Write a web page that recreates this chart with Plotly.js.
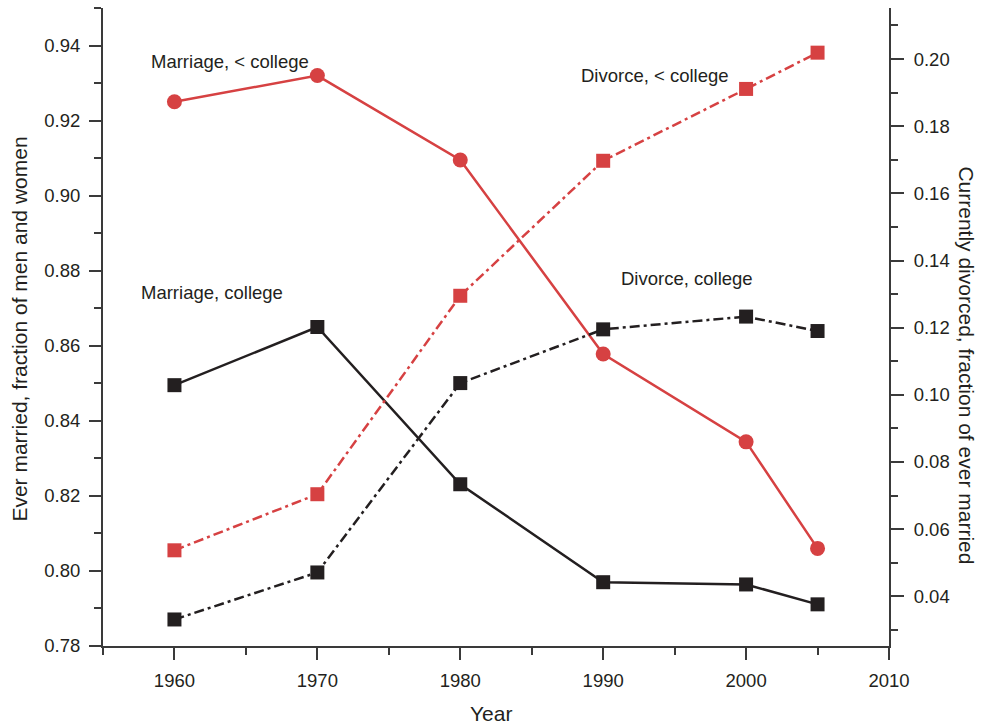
<!DOCTYPE html>
<html>
<head>
<meta charset="utf-8">
<script src="https://cdn.plot.ly/plotly-3.0.1.min.js"></script>
<style>html,body{margin:0;padding:0;background:#fff;}#chart{width:983px;height:726px;}</style>
</head>
<body>
<div id="chart"></div>
<script>
const years = [1960, 1970, 1980, 1990, 2000, 2005];
const marriageNoCollege = [0.925, 0.932, 0.9095, 0.8578, 0.8344, 0.806];
const marriageCollege = [0.8495, 0.865, 0.8231, 0.797, 0.7964, 0.7911];
const divorceNoCollege = [0.0537, 0.0704, 0.1295, 0.1697, 0.1911, 0.2019];
const divorceCollege = [0.0331, 0.0471, 0.1035, 0.1195, 0.1233, 0.119];

const RED = '#d64142';
const BLACK = '#231f20';
const AX = '#3a3a3a';
const TXT = '#231f20';
const FONT = 'Liberation Sans, Arial, Helvetica, sans-serif';
const DASHDOT = '10px,4px,3px,4px';

const traces = [
  {x: years, y: marriageNoCollege, yaxis: 'y', mode: 'lines+markers', name: 'Marriage, < college',
   line: {color: RED, width: 2.5}, marker: {symbol: 'circle', size: 15, color: RED}},
  {x: years, y: marriageCollege, yaxis: 'y', mode: 'lines+markers', name: 'Marriage, college',
   line: {color: BLACK, width: 2.5}, marker: {symbol: 'square', size: 14, color: BLACK}},
  {x: years, y: divorceNoCollege, yaxis: 'y2', mode: 'lines+markers', name: 'Divorce, < college',
   line: {color: RED, width: 2.5, dash: DASHDOT}, marker: {symbol: 'square', size: 14, color: RED}},
  {x: years, y: divorceCollege, yaxis: 'y2', mode: 'lines+markers', name: 'Divorce, college',
   line: {color: BLACK, width: 2.5, dash: DASHDOT}, marker: {symbol: 'square', size: 14, color: BLACK}}
];

const labelFont = {family: FONT, size: 18.5, color: TXT};
const tickFont = {family: FONT, size: 18.5, color: TXT};
const titleFont = {family: FONT, size: 21, color: TXT};

const layout = {
  width: 983, height: 726,
  margin: {l: 102.5, r: 93.7, t: 8.3, b: 80.3},
  paper_bgcolor: '#fff', plot_bgcolor: '#fff',
  showlegend: false,
  font: {family: FONT, size: 18, color: TXT},
  xaxis: {
    range: [1955, 2010], tickmode: 'array', tickvals: [1960, 1970, 1980, 1990, 2000, 2010],
    ticks: 'outside', ticklen: 12, tickwidth: 2, tickcolor: AX,
    minor: {tickvals: [1955, 1965, 1975, 1985, 1995, 2005], ticks: 'outside', ticklen: 7, tickwidth: 2, tickcolor: AX},
    showline: true, linecolor: AX, linewidth: 2, showgrid: false, zeroline: false,
    ticklabelstandoff: 5,
    tickfont: tickFont
  },
  yaxis: {
    range: [0.78, 0.95], tickmode: 'array', tickvals: [0.78, 0.80, 0.82, 0.84, 0.86, 0.88, 0.90, 0.92, 0.94],
    tickformat: '.2f',
    ticks: 'outside', ticklen: 12, tickwidth: 2, tickcolor: AX,
    minor: {tickvals: [0.79, 0.81, 0.83, 0.85, 0.87, 0.89, 0.91, 0.93, 0.95], ticks: 'outside', ticklen: 7, tickwidth: 2, tickcolor: AX},
    showline: true, linecolor: AX, linewidth: 2, showgrid: false, zeroline: false,
    ticklabelstandoff: 5,
    tickfont: tickFont
  },
  yaxis2: {
    overlaying: 'y', side: 'right',
    range: [0.0252, 0.2152], tickmode: 'array', tickvals: [0.04, 0.06, 0.08, 0.10, 0.12, 0.14, 0.16, 0.18, 0.20],
    tickformat: '.2f',
    ticks: 'outside', ticklen: 13, tickwidth: 2, tickcolor: AX,
    minor: {tickvals: [0.03, 0.05, 0.07, 0.09, 0.11, 0.13, 0.15, 0.17, 0.19, 0.21], ticks: 'outside', ticklen: 7, tickwidth: 2, tickcolor: AX},
    showline: true, linecolor: AX, linewidth: 2, showgrid: false, zeroline: false,
    ticklabelstandoff: 6,
    tickfont: tickFont
  },
  annotations: [
    {text: 'Marriage, < college', xref: 'paper', yref: 'paper', x: (148.5-102.5)/786.8, y: 1-(61.7-8.3)/637.4, xanchor: 'left', yanchor: 'middle', showarrow: false, font: labelFont},
    {text: 'Divorce, < college', xref: 'paper', yref: 'paper', x: (578.5-102.5)/786.8, y: 1-(75.7-8.3)/637.4, xanchor: 'left', yanchor: 'middle', showarrow: false, font: labelFont},
    {text: 'Marriage, college', xref: 'paper', yref: 'paper', x: (138.5-102.5)/786.8, y: 1-(292.7-8.3)/637.4, xanchor: 'left', yanchor: 'middle', showarrow: false, font: labelFont},
    {text: 'Divorce, college', xref: 'paper', yref: 'paper', x: (619.5-102.5)/786.8, y: 1-(278.3-8.3)/637.4, xanchor: 'left', yanchor: 'middle', showarrow: false, font: labelFont},
    {text: 'Year', xref: 'paper', yref: 'paper', x: (490.5-102.5)/786.8, y: 1-(713-8.3)/637.4, xanchor: 'center', yanchor: 'middle', showarrow: false, font: titleFont},
    {text: 'Ever married, fraction of men and women', xref: 'paper', yref: 'paper', x: (18-102.5)/786.8, y: 1-(329-8.3)/637.4, xanchor: 'center', yanchor: 'middle', textangle: -90, showarrow: false, font: titleFont},
    {text: 'Currently divorced, fraction of ever married', xref: 'paper', yref: 'paper', x: (966.5-102.5)/786.8, y: 1-(365.5-8.3)/637.4, xanchor: 'center', yanchor: 'middle', textangle: 90, showarrow: false, font: titleFont}
  ]
};

Plotly.newPlot('chart', traces, layout, {staticPlot: true, displayModeBar: false});
</script>
</body>
</html>
